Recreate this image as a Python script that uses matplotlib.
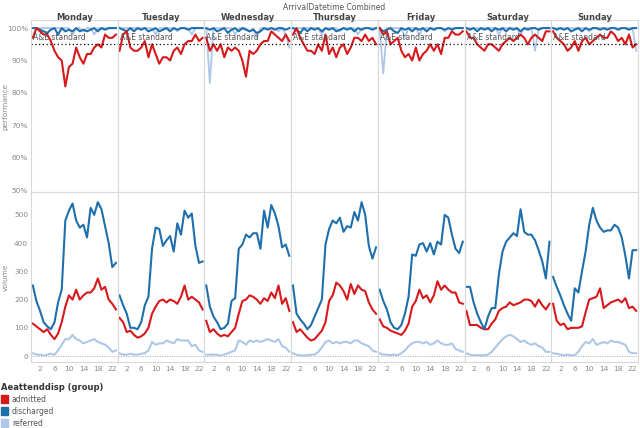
import matplotlib
matplotlib.use("Agg")
import matplotlib.pyplot as plt
import numpy as np

days = ["Monday","Tuesday","Wednesday","Thursday","Friday","Saturday","Sunday"]
hours = list(range(24))

vol_discharged = [
 [250,195,160,120,105,95,120,190,235,480,515,540,480,455,465,420,525,500,545,520,460,400,315,330],
 [215,180,150,100,100,95,120,180,210,380,455,450,390,410,425,370,470,430,515,490,505,390,330,335],
 [250,175,140,120,95,100,115,195,205,380,395,430,420,435,435,380,515,455,535,505,460,385,395,355],
 [250,150,130,115,95,110,140,170,200,395,450,480,470,490,440,460,455,510,480,545,500,390,345,385],
 [235,195,165,120,100,95,110,150,210,360,355,395,400,370,400,360,405,395,500,490,430,380,365,405],
 [245,245,190,150,120,95,140,170,170,290,370,405,420,435,425,520,440,430,430,410,375,335,275,405],
 [280,245,215,180,150,125,240,225,300,370,465,525,480,455,440,445,445,465,455,420,355,275,375,375],
]
vol_admitted = [
 [115,105,95,85,95,75,60,80,120,175,215,200,235,200,215,225,225,240,275,235,245,200,185,165],
 [135,120,85,90,75,65,70,80,100,150,175,195,200,190,200,195,185,210,250,200,210,200,190,165],
 [125,85,95,80,70,75,70,85,100,150,195,200,215,210,200,185,205,195,225,205,250,185,205,160],
 [120,85,95,80,65,55,60,75,90,120,195,215,260,250,230,200,255,220,250,235,230,190,165,150],
 [130,105,100,90,85,80,75,90,115,175,195,235,205,215,190,215,265,235,250,235,225,225,190,185],
 [160,110,110,110,100,95,95,115,130,160,170,175,190,180,185,190,200,200,195,175,200,180,165,185],
 [185,125,110,115,95,100,100,100,105,155,200,205,210,240,170,180,190,195,200,190,205,170,175,160],
]
vol_referred = [
 [10,5,5,2,5,8,5,20,40,60,60,75,60,55,45,50,55,60,50,45,40,30,15,20],
 [10,5,5,8,5,5,8,10,20,50,40,45,45,55,50,45,60,55,55,55,35,40,20,15],
 [5,5,5,5,2,5,10,15,20,55,50,40,55,50,55,50,55,60,55,50,60,35,30,15],
 [10,5,3,2,3,5,5,15,30,50,55,45,50,45,50,50,45,55,55,45,40,35,20,15],
 [10,5,5,3,5,3,10,20,35,45,50,50,45,50,40,45,55,45,40,40,45,25,20,15],
 [10,5,3,3,3,3,5,15,30,45,60,70,75,70,60,50,55,45,40,45,35,30,15,15],
 [10,8,5,3,5,3,3,15,35,50,45,60,40,45,50,45,55,50,50,45,40,15,10,10],
]
perf_admitted = [
 [97,100,99,98,98,96,93,91,90,82,88,89,94,91,89,92,92,94,95,94,98,97,97,98],
 [93,98,99,94,93,93,94,96,91,95,92,89,91,91,90,93,94,92,95,96,96,98,96,97],
 [97,93,95,93,95,91,94,93,94,93,90,85,93,92,93,95,96,96,99,98,97,96,98,96],
 [98,100,97,95,93,93,92,95,93,98,92,94,91,94,95,92,94,97,97,96,98,96,97,95],
 [100,98,99,95,96,97,93,91,92,90,94,90,92,93,95,93,95,92,97,97,99,98,98,99],
 [99,97,97,95,94,93,95,95,94,93,95,96,97,96,97,98,97,95,97,98,97,96,99,99],
 [99,97,96,95,93,94,96,93,96,97,95,96,97,98,97,97,99,98,96,97,95,98,94,95],
]
perf_discharged = [
 [100,100,99.5,99,98.5,99.5,100,98,100,99,99.5,99,100,99,99.5,99,99.5,100,99,100,99.5,100,100,100],
 [100,99.5,99,100,99,100,99.5,100,99,99.5,100,99,99.5,100,99,100,99.5,100,100,99.5,100,100,100,100],
 [100,99.5,100,99,99.5,100,98.5,99.5,100,99,100,99.5,99,99.5,98.5,99,100,99.5,100,99.5,100,100,99.5,100],
 [100,99.5,98.5,100,99,100,99.5,100,99,100,99.5,100,99,99.5,100,99.5,100,99,100,99.5,100,100,99.5,100],
 [100,99,99.5,100,99,98.5,100,99.5,100,99,100,99.5,100,99,100,99.5,100,100,99.5,100,99.5,100,100,100],
 [100,99.5,100,99,100,99.5,100,99,100,99.5,100,99,100,99.5,100,99,100,99.5,100,100,99.5,100,100,100],
 [100,99.5,100,99.5,100,99,99.5,100,99,100,99.5,100,100,99.5,100,99.5,100,100,99.5,100,100,99.5,100,100],
]
perf_referred = [
 [100,100,100,100,100,100,100,100,100,100,100,98,100,100,99,100,100,98,100,100,100,100,100,100],
 [100,100,100,100,100,100,100,100,100,100,98,100,100,100,100,100,99,100,100,100,98,100,100,100],
 [100,83,100,100,100,100,100,100,98,100,100,100,99,100,97,100,100,100,100,100,99,100,98,94],
 [100,100,100,100,100,100,100,100,98,100,100,100,100,99,100,100,100,100,98,100,100,100,100,100],
 [100,86,100,100,100,100,100,97,100,100,100,98,100,100,100,100,100,100,99,100,100,100,100,100],
 [100,100,100,100,100,100,100,100,100,98,100,100,100,100,100,98,100,100,100,93,100,100,100,100],
 [100,100,100,100,100,100,100,100,100,100,99,100,100,100,100,100,100,100,100,100,100,100,100,93],
]
xticks = [2,6,10,14,18,22]

c_adm, c_dis, c_ref = "#d7191c", "#1f6fad", "#aec7e8"
grey = "#888888"
W, H = 640, 428
fig = plt.figure(figsize=(6.4, 4.28), dpi=100)
left, right = 31, 638
pw = (right - left) / 7
ptop, pmid, pbot = 20, 192, 362

def ax_at(x0, y0, x1, y1):
    return fig.add_axes([x0 / W, 1 - y1 / H, (x1 - x0) / W, (y1 - y0) / H])

fig.text((left + right) / 2 / W, 1 - 7 / H, "ArrivalDatetime Combined", ha="center", va="center", fontsize=5.5, color="#555555")
for i, d in enumerate(days):
    x0 = left + i * pw
    x1 = x0 + pw
    fig.text((x0 + x1) / 2 / W, 1 - 17 / H, d, ha="center", va="center", fontsize=6, fontweight="bold", color="#444444")
    a1 = ax_at(x0, ptop, x1, pmid)
    a2 = ax_at(x0, pmid, x1, pbot)
    for a in (a1, a2):
        a.set_xlim(-0.5, 23.5)
        for s in a.spines.values():
            s.set_color("#d8d8d8"); s.set_linewidth(0.8)
        a.tick_params(length=0, labelsize=5.3, colors=grey, pad=2)
    a1.set_ylim(49.4, 102.5)
    a1.plot(hours, perf_referred[i], color=c_ref, lw=1.3)
    a1.plot(hours, perf_discharged[i], color=c_dis, lw=1.5)
    a1.plot(hours, perf_admitted[i], color=c_adm, lw=1.5)
    a1.axhline(95, color="black", ls=(0, (1, 2)), lw=0.9)
    a1.text(0.05, 97, "A&E standard", fontsize=5.5, color="#555555", va="center")
    a1.set_xticks([])
    a2.set_ylim(-21, 581)
    a2.axhline(0, color="#aaaaaa", ls=(0, (1, 1.5)), lw=0.7)
    a2.plot(hours, vol_referred[i], color=c_ref, lw=1.5)
    a2.plot(hours, vol_admitted[i], color=c_adm, lw=1.5)
    a2.plot(hours, vol_discharged[i], color=c_dis, lw=1.5)
    a2.set_xticks(xticks)
    a2.tick_params(axis="x", pad=3)
    if i == 0:
        a1.set_yticks([50, 60, 70, 80, 90, 100])
        a1.set_yticklabels(["50%", "60%", "70%", "80%", "90%", "100%"])
        a1.set_ylabel("performance", fontsize=5.3, color=grey)
        a1.yaxis.set_label_coords(-25 / pw, 0.5, transform=None) if False else a1.yaxis.set_label_coords(-0.26, 0.5)
        a2.set_yticks([0, 100, 200, 300, 400, 500])
        a2.set_ylabel("volume", fontsize=5.3, color=grey)
        a2.yaxis.set_label_coords(-0.26, 0.5)
    else:
        a1.set_yticks([]); a2.set_yticks([])

fig.text(1 / W, 1 - 387 / H, "Aeattenddisp (group)", fontsize=6, fontweight="bold", color="#333333", va="center")
for k, (lab, c) in enumerate([("admitted", c_adm), ("discharged", c_dis), ("referred", c_ref)]):
    y = 399 + k * 12
    fig.patches.append(matplotlib.patches.Rectangle((1 / W, 1 - (y + 4) / H), 7 / W, 8 / H, color=c, transform=fig.transFigure))
    fig.text(12 / W, 1 - y / H, lab, fontsize=5.5, color="#555555", va="center")

fig.savefig("out.png", dpi=100)
